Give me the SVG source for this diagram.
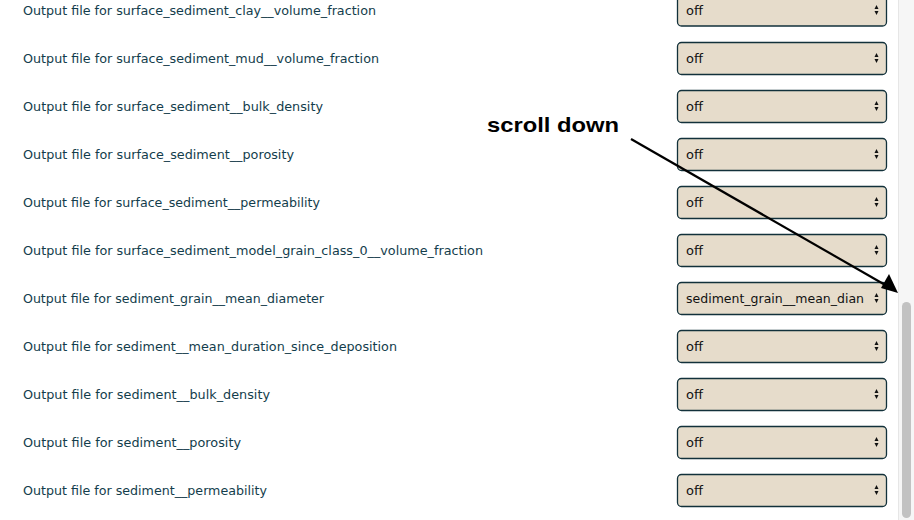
<svg xmlns="http://www.w3.org/2000/svg" width="914" height="520" viewBox="0 0 914 520">
<style>
.lbl{font-family:"DejaVu Sans","Liberation Sans",sans-serif;font-size:12.5px;fill:#133d4c}
.sel{fill:#e6dccb;stroke:#12313b;stroke-width:1.3}
.opt{font-family:"DejaVu Sans","Liberation Sans",sans-serif;font-size:13px;fill:#111}
.ico{fill:#111}
.note{font-family:"Liberation Sans",Arial,sans-serif;font-size:20.5px;font-weight:bold;fill:#000}
</style>
<defs>
<g id="icon"><path class="ico" d="M874.5,297 L876.5,293 L878.5,297 Z M874.5,299 L876.5,303 L878.5,299 Z"/></g>
</defs>
<rect width="914" height="520" fill="#fff"/>
<g id="scrollbar">
<rect x="898" y="0" width="16" height="520" fill="#f6f6f6"/>
<line x1="898.5" y1="0" x2="898.5" y2="520" stroke="#e6e6e6"/>
<rect x="902" y="302" width="9" height="216" rx="4.5" fill="#c2c2c2"/>
</g>
<g id="row0"><text class="lbl" x="23" y="15" textLength="353" lengthAdjust="spacingAndGlyphs">Output file for surface_sediment_clay__volume_fraction</text><rect class="sel" x="677.5" y="-6" width="209" height="32" rx="4"/><text class="opt" x="686" y="15">off</text><use href="#icon" y="-288"/></g>
<g id="row1"><text class="lbl" x="23" y="63" textLength="356" lengthAdjust="spacingAndGlyphs">Output file for surface_sediment_mud__volume_fraction</text><rect class="sel" x="677.5" y="42.5" width="209" height="32" rx="4"/><text class="opt" x="686" y="63">off</text><use href="#icon" y="-240"/></g>
<g id="row2"><text class="lbl" x="23" y="111" textLength="300" lengthAdjust="spacingAndGlyphs">Output file for surface_sediment__bulk_density</text><rect class="sel" x="677.5" y="90.5" width="209" height="32" rx="4"/><text class="opt" x="686" y="111">off</text><use href="#icon" y="-192"/></g>
<g id="row3"><text class="lbl" x="23" y="159" textLength="271" lengthAdjust="spacingAndGlyphs">Output file for surface_sediment__porosity</text><rect class="sel" x="677.5" y="138.5" width="209" height="32" rx="4"/><text class="opt" x="686" y="159">off</text><use href="#icon" y="-144"/></g>
<g id="row4"><text class="lbl" x="23" y="207" textLength="297" lengthAdjust="spacingAndGlyphs">Output file for surface_sediment__permeability</text><rect class="sel" x="677.5" y="186.5" width="209" height="32" rx="4"/><text class="opt" x="686" y="207">off</text><use href="#icon" y="-96"/></g>
<g id="row5"><text class="lbl" x="23" y="255" textLength="460" lengthAdjust="spacingAndGlyphs">Output file for surface_sediment_model_grain_class_0__volume_fraction</text><rect class="sel" x="677.5" y="234.5" width="209" height="32" rx="4"/><text class="opt" x="686" y="255">off</text><use href="#icon" y="-48"/></g>
<g id="row6"><text class="lbl" x="23" y="303" textLength="301" lengthAdjust="spacingAndGlyphs">Output file for sediment_grain__mean_diameter</text><rect class="sel" x="677.5" y="282.5" width="209" height="32" rx="4"/><text class="opt" x="686" y="303" textLength="178" lengthAdjust="spacingAndGlyphs">sediment_grain__mean_dian</text><use href="#icon" y="0"/></g>
<g id="row7"><text class="lbl" x="23" y="351" textLength="374" lengthAdjust="spacingAndGlyphs">Output file for sediment__mean_duration_since_deposition</text><rect class="sel" x="677.5" y="330.5" width="209" height="32" rx="4"/><text class="opt" x="686" y="351">off</text><use href="#icon" y="48"/></g>
<g id="row8"><text class="lbl" x="23" y="399" textLength="247" lengthAdjust="spacingAndGlyphs">Output file for sediment__bulk_density</text><rect class="sel" x="677.5" y="378.5" width="209" height="32" rx="4"/><text class="opt" x="686" y="399">off</text><use href="#icon" y="96"/></g>
<g id="row9"><text class="lbl" x="23" y="447" textLength="218" lengthAdjust="spacingAndGlyphs">Output file for sediment__porosity</text><rect class="sel" x="677.5" y="426.5" width="209" height="32" rx="4"/><text class="opt" x="686" y="447">off</text><use href="#icon" y="144"/></g>
<g id="row10"><text class="lbl" x="23" y="495" textLength="244" lengthAdjust="spacingAndGlyphs">Output file for sediment__permeability</text><rect class="sel" x="677.5" y="474.5" width="209" height="32" rx="4"/><text class="opt" x="686" y="495">off</text><use href="#icon" y="192"/></g>
<g id="note"><text class="note" x="487" y="132" textLength="132" lengthAdjust="spacingAndGlyphs">scroll down</text></g>
<g id="connectors">
<line x1="631" y1="139" x2="887" y2="286" stroke="#000" stroke-width="2.2"/>
<polygon points="898,293 881,288 889,274" fill="#000"/>
</g>
</svg>
